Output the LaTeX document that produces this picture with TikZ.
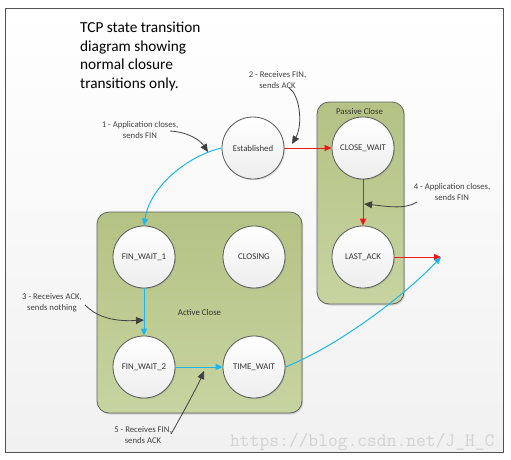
\documentclass[tikz,border=0pt]{standalone}
\usepackage{fontspec}
\setmainfont{Carlito}
\usetikzlibrary{arrows.meta,shadows}
\definecolor{boxtop}{RGB}{180,194,132}
\definecolor{boxbot}{RGB}{199,212,161}
\definecolor{cyanline}{RGB}{30,182,234}
\definecolor{redline}{RGB}{238,24,24}
\definecolor{annot}{RGB}{64,64,64}
\begin{document}
\begin{tikzpicture}[x=1pt,y=-1pt,
  state/.style={circle, draw=gray!70!black, line width=0.8pt, minimum size=62pt, inner sep=0pt,
    top color=white, bottom color=gray!14, font=\fontsize{8.8}{10}\selectfont, text=black!80,
    drop shadow={opacity=0.25, shadow xshift=1pt, shadow yshift=-1.2pt}},
  group/.style={rounded corners=12pt, draw=black!62, line width=0.8pt, inner sep=0pt,
    top color=boxtop, bottom color=boxbot, font=\fontsize{8.8}{10}\selectfont, text=black!80,
    drop shadow={opacity=0.3, shadow xshift=1.2pt, shadow yshift=-1.5pt}},
  annotation/.style={font=\fontsize{8.7}{11}\selectfont, text=annot, align=center, inner sep=0pt},
  pointer/.style={draw=annot, line width=0.8pt, -{Triangle[length=8pt,width=7pt]}, fill=none},
  blueflow/.style={draw=cyanline, line width=1pt, -{Triangle[length=7pt,width=6pt]}},
  redflow/.style={draw=redline, line width=1pt, -{Triangle[length=7pt,width=6pt]}},
]
\useasboundingbox (0,0) rectangle (511,459);
\fill[white] (0,0) rectangle (511,459);
\draw[draw=gray!65!black, line width=0.8pt, top color=white, bottom color=gray!11] (5,8) rectangle (503,452);

% title
\node[anchor=north west, align=left, inner sep=0pt, font=\fontsize{15.3}{18.6}\selectfont, text=black] (title) at (80,21.8)
  {TCP state transition\\diagram showing\\normal closure\\transitions only.};

% groups
\node[group, minimum width=205pt, minimum height=201pt] (active) at (199.5,312.5) {Active Close};
\node[group, minimum width=87pt, minimum height=202pt] (passive) at (360.5,203) {};
\node[font=\fontsize{8.8}{10}\selectfont, text=black!80, inner sep=0pt] (passlbl) at (359.5,111) {Passive Close};

% states
\node[state] (est) at (253,148) {Established};
\node[state] (cw) at (363,148) {CLOSE\_WAIT};
\node[state] (la) at (363,257) {LAST\_ACK};
\node[state] (fw1) at (144,257) {FIN\_WAIT\_1};
\node[state] (closing) at (254,257) {CLOSING};
\node[state] (fw2) at (144,367) {FIN\_WAIT\_2};
\node[state] (tw) at (254,367) {TIME\_WAIT};

\coordinate (endpt) at (441,257);

% transitions
\draw[blueflow] (est.west) .. controls (190,155) and (150,185) .. (fw1.north);
\draw[redflow] (est.east) -- (cw.west);
\draw[redflow] (cw.south) -- (la.north);
\draw[redflow] (la.east) -- (endpt);
\draw[blueflow] (fw1.south) -- (fw2.north);
\draw[blueflow] (fw2.east) -- (tw.west);
\draw[blueflow] (tw.east) .. controls (340,345) and (405,295) .. (endpt);

% annotations
\node[annotation] (t1) at (140,130) {1 - Application closes,\\sends FIN};
\node[annotation] (t2) at (277.5,80) {2 - Receives FIN,\\sends ACK};
\node[annotation] (t3) at (52,302.5) {3 - Receives ACK,\\sends nothing};
\node[annotation] (t4) at (452,192) {4 - Application closes,\\sends FIN};
\node[annotation] (t5) at (143,435) {5 - Receives FIN,\\sends ACK};

\coordinate (p1tail) at (170,131); \coordinate (p1tip) at (208,152);
\coordinate (p2tail) at (289,88);  \coordinate (p2tip) at (292,144);
\coordinate (p3tail) at (85,305);  \coordinate (p3tip) at (144,320);
\coordinate (p4tail) at (417,202); \coordinate (p4tip) at (364,204);
\coordinate (p5tail) at (171,434); \coordinate (p5tip) at (204,371);

\draw[pointer] (p1tail) .. controls (188,132) and (200,140) .. (p1tip);
\draw[pointer] (p2tail) .. controls (300,95) and (303,125) .. (p2tip);
\draw[pointer] (p3tail) .. controls (95,315) and (110,322) .. (p3tip);
\draw[pointer] (p4tail) .. controls (405,210) and (385,206) .. (p4tip);
\draw[pointer] (p5tail) .. controls (182,415) and (198,385) .. (p5tip);

% watermark
\node[anchor=base west, inner sep=0pt, font=\ttfamily\fontsize{19}{19}\selectfont, text=gray!35] (wm) at (230,446) {https://blog.csdn.net/J\_H\_C};
\end{tikzpicture}
\end{document}
